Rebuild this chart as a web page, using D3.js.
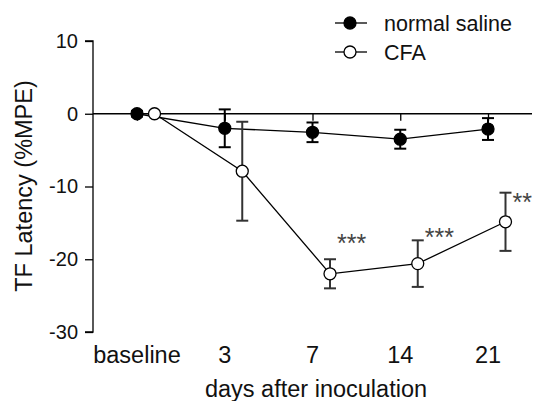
<!DOCTYPE html>
<html lang="en">
<head>
<meta charset="utf-8">
<title>TF latency</title>
<script src="https://cdn.jsdelivr.net/npm/d3@7"></script>
<style>
  body { margin: 0; background: #fff; }
  text { font-family: "Liberation Sans", Arial, Helvetica, sans-serif; }
</style>
</head>
<body>
<script>
// data
var days = ["baseline", "3", "7", "14", "21"];
var salineMean = [0, -2.0, -2.55, -3.5, -2.1];
var salineErr  = [0.4, 2.6, 1.35, 1.3, 1.5];
var cfaMean    = [0, -7.9, -22.0, -20.6, -14.85];
var cfaErr     = [0, 6.8, 2.0, 3.2, 4.0];
var sigLabels  = ["", "", "***", "***", "**"];
var sigY       = [0, 0, -17.3, -16.5, -11.7];
var yTicks     = [10, 0, -10, -20, -30];

var w = 537, h = 401;

var svg = d3.select("body").append("svg")
  .attr("width", w)
  .attr("height", h);

var xScale = d3.scalePoint().domain(days).range([137, 488]);
var yScale = d3.scaleLinear().domain([-30, 10]).range([332, 41]);
var shift = 17.5; // CFA points sit right of the saline points

var saline = days.map(function(d, i) { return {day: d, m: salineMean[i], e: salineErr[i]}; });
var cfa = days.map(function(d, i) { return {day: d, m: cfaMean[i], e: cfaErr[i]}; });

// y axis
var yAxis = d3.axisLeft(yScale).tickValues(yTicks).tickSize(8).tickPadding(7)
  .tickFormat(function(d) { return String(d); });
var gy = svg.append("g").attr("transform", "translate(93,0)").call(yAxis);
gy.select(".domain").attr("d", "M-8," + yScale(10) + "H0V" + yScale(-30) + "H-8")
  .attr("stroke", "#000").attr("stroke-width", 1.3);
gy.selectAll(".tick line").attr("stroke-width", 1.3);
gy.selectAll("text").attr("font-size", 20).attr("fill", "#111");

// zero line with ticks hanging down
var x0 = d3.axisBottom(xScale).tickSize(7).tickFormat("");
var gx0 = svg.append("g").attr("transform", "translate(0," + yScale(0) + ")").call(x0);
gx0.select(".domain").attr("d", "M93,0H532").attr("stroke-width", 1.3);
gx0.selectAll(".tick line").attr("stroke-width", 1.3);

// category labels
svg.append("g").selectAll("text")
  .data(days).enter().append("text")
  .attr("x", function(d) { return xScale(d); })
  .attr("y", 363)
  .attr("text-anchor", "middle")
  .attr("font-size", 23.5)
  .attr("fill", "#111")
  .text(function(d) { return d; });

svg.append("text")
  .attr("x", 316).attr("y", 397)
  .attr("text-anchor", "middle")
  .attr("font-size", 23.5)
  .attr("fill", "#111")
  .text("days after inoculation");

svg.append("text")
  .attr("transform", "translate(32,186) rotate(-90)")
  .attr("text-anchor", "middle")
  .attr("font-size", 23.5)
  .attr("fill", "#111")
  .text("TF Latency (%MPE)");

var line = d3.line()
  .x(function(d) { return d.x; })
  .y(function(d) { return yScale(d.m); });

function drawSeries(data, dx, fill, errColor) {
  var pts = data.map(function(d) { return {x: xScale(d.day) + dx, m: d.m, e: d.e}; });
  var g = svg.append("g");
  g.append("path").datum(pts)
    .attr("d", line).attr("fill", "none")
    .attr("stroke", "#000").attr("stroke-width", 1.3);
  var eb = g.selectAll(".eb").data(pts.filter(function(d) { return d.e > 0; }))
    .enter().append("g").attr("stroke", errColor).attr("stroke-width", 2);
  eb.append("line")
    .attr("x1", function(d) { return d.x; }).attr("x2", function(d) { return d.x; })
    .attr("y1", function(d) { return yScale(d.m + d.e); })
    .attr("y2", function(d) { return yScale(d.m - d.e); });
  [1, -1].forEach(function(s) {
    eb.append("line")
      .attr("x1", function(d) { return d.x - 6; }).attr("x2", function(d) { return d.x + 6; })
      .attr("y1", function(d) { return yScale(d.m + s * d.e); })
      .attr("y2", function(d) { return yScale(d.m + s * d.e); });
  });
  g.selectAll("circle").data(pts).enter().append("circle")
    .attr("cx", function(d) { return d.x; })
    .attr("cy", function(d) { return yScale(d.m); })
    .attr("r", 6)
    .attr("fill", fill)
    .attr("stroke", "#000").attr("stroke-width", 1.3);
}

drawSeries(saline, 0, "#000", "#000");
drawSeries(cfa, shift, "#fff", "#333");

// significance stars
svg.append("g").selectAll("text")
  .data(days.map(function(d, i) { return {day: d, s: sigLabels[i], y: sigY[i]}; })
    .filter(function(d) { return d.s; }))
  .enter().append("text")
  .attr("x", function(d) { return xScale(d.day) + shift + 7; })
  .attr("y", function(d) { return yScale(d.y) + 12; })
  .attr("font-family", "'Liberation Serif', 'Times New Roman', serif")
  .attr("font-size", 25)
  .attr("fill", "#444")
  .text(function(d) { return d.s; });

// legend
var legend = [
  {name: "normal saline", fill: "#000"},
  {name: "CFA", fill: "#fff"}
];
var lg = svg.append("g").selectAll("g").data(legend).enter().append("g")
  .attr("transform", function(d, i) { return "translate(350," + (23 + i * 29) + ")"; });
lg.append("line").attr("x1", -15).attr("x2", 17)
  .attr("stroke", "#000").attr("stroke-width", 1.3);
lg.append("circle").attr("r", 6)
  .attr("fill", function(d) { return d.fill; })
  .attr("stroke", "#000").attr("stroke-width", 1.3);
lg.append("text").attr("x", 34).attr("y", 7.5)
  .attr("font-size", 21.5).attr("fill", "#111")
  .text(function(d) { return d.name; });
</script>
</body>
</html>
